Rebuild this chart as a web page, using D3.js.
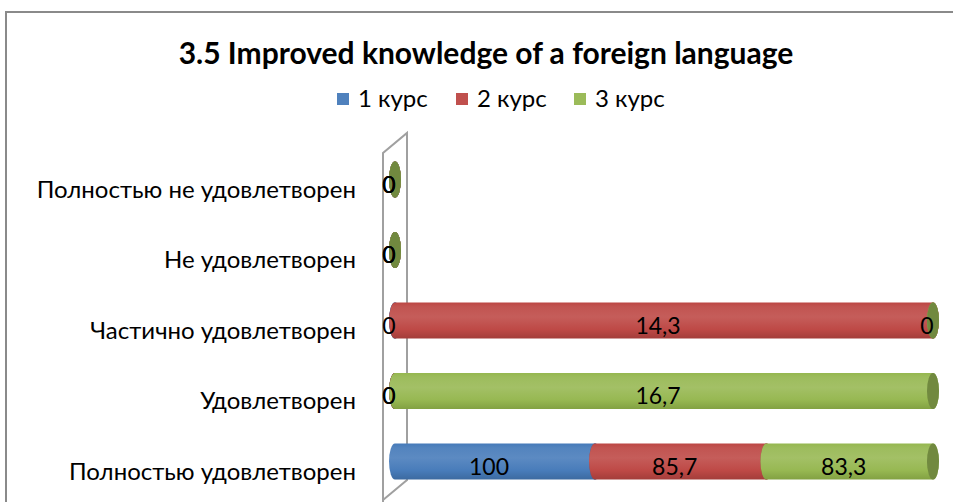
<!DOCTYPE html>
<html>
<head>
<meta charset="utf-8">
<script src="https://d3js.org/d3.v7.min.js"></script>
<style>
  html, body { margin: 0; padding: 0; background: #fff; }
  svg { display: block; }
  text { font-family: Lato, "Open Sans", sans-serif; fill: #000; }
</style>
</head>
<body>
<svg id="chart" width="953" height="502"></svg>
<script>
// --- data ---
const categories = [
  "Полностью не удовлетворен",
  "Не удовлетворен",
  "Частично удовлетворен",
  "Удовлетворен",
  "Полностью удовлетворен"
];
const seriesNames = ["1 курс", "2 курс", "3 курс"];
const course1 = [0, 0, 0, 0, 100];
const course2 = [0, 0, 14.3, 0, 85.7];
const course3 = [0, 0, 0, 16.7, 83.3];
const titleText = "3.5 Improved knowledge of a foreign language";

const colors = ["#4f81bd", "#c0504d", "#9bbb59"];
const capColors = ["#3b6396", "#963c3a", "#71893f"];

const W = 953, H = 502;
const svg = d3.select("#chart");
const defs = svg.append("defs");

// outer chart border (runs off the right / bottom edge)
svg.append("rect")
  .attr("x", 6).attr("y", 12)
  .attr("width", 1000).attr("height", 600)
  .attr("fill", "none")
  .attr("stroke", "#8a8a8a")
  .attr("stroke-width", 2);

// title
svg.append("text")
  .attr("x", 486).attr("y", 64)
  .attr("text-anchor", "middle")
  .style("font-size", "30px")
  .style("font-weight", "bold")
  .text(titleText);

// legend
const legendX = [337, 456, 574];
const legend = svg.append("g");
seriesNames.forEach((name, i) => {
  legend.append("rect")
    .attr("x", legendX[i]).attr("y", 93)
    .attr("width", 12).attr("height", 12)
    .attr("fill", colors[i]);
  legend.append("text")
    .attr("x", legendX[i] + 21).attr("y", 107)
    .style("font-size", "24px")
    .text(name);
});

// gradients for cylinder bodies
function shade(c, k) {
  const h = d3.hsl(c);
  return k > 0 ? h.brighter(k).formatHex() : h.darker(-k).formatHex();
}
colors.forEach((c, i) => {
  const g = defs.append("linearGradient")
    .attr("id", "grad" + i)
    .attr("x1", 0).attr("y1", 0).attr("x2", 0).attr("y2", 1);
  g.append("stop").attr("offset", "0%").attr("stop-color", shade(c, -0.15));
  g.append("stop").attr("offset", "12%").attr("stop-color", shade(c, 0.05));
  g.append("stop").attr("offset", "40%").attr("stop-color", shade(c, 0.18));
  g.append("stop").attr("offset", "75%").attr("stop-color", shade(c, -0.1));
  g.append("stop").attr("offset", "100%").attr("stop-color", shade(c, -0.55));
});

// --- scales ---
const x = d3.scaleLinear().domain([0, 1]).range([395, 933]);
const y = d3.scalePoint().domain(categories).range([179.5, 461.5]);
const rx = 6, ry = 18;

// 3D side wall
const wall = svg.append("g")
  .attr("fill", "none")
  .attr("stroke", "#a0a0a0")
  .attr("stroke-width", 2);
wall.append("path")
  .attr("d", "M383,510 L383,153 L407,133 L407,480 L383,500");

// stacked (100%) data
const table = categories.map((c, i) => ({
  cat: c, s0: course1[i], s1: course2[i], s2: course3[i]
}));
const stack = d3.stack().keys(["s0", "s1", "s2"]).offset(d3.stackOffsetExpand);
const layers = stack(table);

// category labels (front plane)
svg.append("g").selectAll("text")
  .data(categories)
  .enter().append("text")
  .attr("x", 356)
  .attr("y", d => y(d) + 18)
  .attr("text-anchor", "end")
  .style("font-size", "24px")
  .text(d => d);

function cylPath(x0, x1, cy) {
  return `M${x0},${cy - ry} L${x1},${cy - ry}` +
    ` A${rx},${ry} 0 0 1 ${x1},${cy + ry}` +
    ` L${x0},${cy + ry}` +
    ` A${rx},${ry} 0 0 1 ${x0},${cy - ry} Z`;
}

const bars = svg.append("g");
categories.forEach((cat, ci) => {
  layers.forEach((layer, si) => {
    const d = layer[ci];
    const x0 = x(d[0] || 0), x1 = x(d[1] || 0);
    const cy = y(cat);
    bars.append("path")
      .attr("d", cylPath(x0, x1, cy))
      .attr("fill", `url(#grad${si})`);
    bars.append("ellipse")
      .attr("cx", x1).attr("cy", cy)
      .attr("rx", rx).attr("ry", ry)
      .attr("fill", capColors[si]);
  });
});

// value labels (front plane, slightly left and down from the bars)
const fmt = v => String(v).replace(".", ",");
const labels = svg.append("g");
layers.forEach((layer, si) => {
  const vals = [course1, course2, course3][si];
  layer.forEach((d, ci) => {
    const x0 = x(d[0] || 0), x1 = x(d[1] || 0);
    labels.append("text")
      .attr("x", (x0 + x1) / 2 - 6)
      .attr("y", y(categories[ci]) + 13)
      .attr("text-anchor", "middle")
      .style("font-size", "23px")
      .text(fmt(vals[ci]));
  });
});
</script>
</body>
</html>
